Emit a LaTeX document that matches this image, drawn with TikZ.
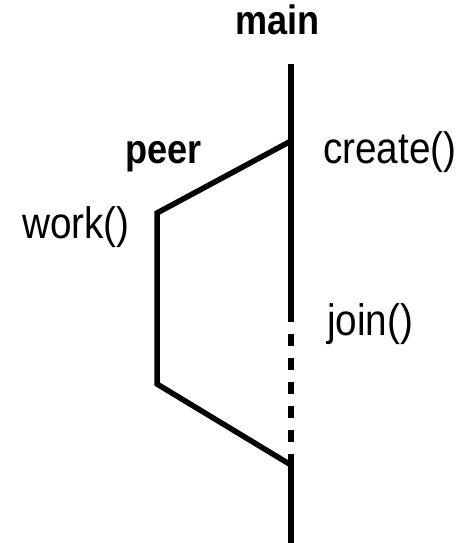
\documentclass[tikz,border=0pt]{standalone}
\usepackage{fontspec}
\setmainfont{Liberation Sans}[FakeStretch=0.88]
\begin{document}
\begin{tikzpicture}[x=1pt,y=-1pt,
  thread/.style={line width=5.5pt, line cap=butt, line join=miter},
  waiting/.style={thread, dash pattern=on 12.5pt off 11.5pt, dash phase=12.5pt},
  call/.style={inner sep=0pt, font=\fontsize{44}{50}\selectfont},
  title/.style={inner sep=0pt, font=\fontsize{41}{48}\selectfont\bfseries}]
\useasboundingbox (0,0) rectangle (472,543);

% main thread
\coordinate (mtop)    at (291,64);
\coordinate (mcreate) at (291,141);
\coordinate (mwait)   at (291,322);
\coordinate (mresume) at (291,454);
\coordinate (mjoin)   at (291,465);
\coordinate (mbot)    at (291,543);

% peer thread
\coordinate (pstart) at (157,213);
\coordinate (pend)   at (157,384);

\draw[thread] (mtop) -- (mwait);
\draw[waiting] (mwait) -- (mresume);
\draw[thread] (mresume) -- (mbot);
\draw[thread] (mcreate) -- (pstart) -- (pend) -- (mjoin);

% labels
\node[title, anchor=base] (lmain) at (277.5,35) {main};
\node[title, anchor=base] (lpeer) at (163.5,163) {peer};
\node[call, anchor=base west] (lcreate) at (323,163) {create()};
\node[call, anchor=base east] (lwork) at (130,238) {work()};
\node[call, anchor=base west] (ljoin) at (327,335) {join()};
\end{tikzpicture}
\end{document}
